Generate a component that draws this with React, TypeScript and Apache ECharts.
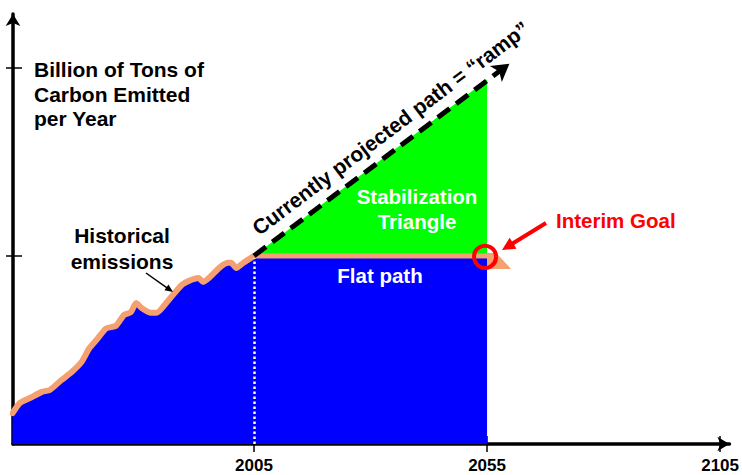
import React, { useEffect, useRef } from "react";
import * as echarts from "echarts";

// Historical emissions (billion tons of carbon per year)
const histYears = [1953.2, 1954.8, 1956.9, 1959.5, 1961.2, 1963.7, 1965.9, 1968.0, 1969.7, 1971.2, 1973.3, 1975.4, 1977.1, 1978.6, 1979.7, 1980.9, 1982.9, 1984.1, 1986.7, 1989.5, 1991.6, 1993.1, 1994.1, 1995.6, 1997.8, 1999.5, 2000.1, 2001.2, 2002.7, 2005];
const histValues = [1.15, 1.53, 1.71, 1.94, 2.01, 2.38, 2.68, 3.05, 3.57, 3.87, 4.3, 4.4, 4.8, 4.91, 5.25, 5.06, 4.88, 4.88, 5.36, 5.92, 6.11, 6.18, 6.03, 6.22, 6.59, 6.74, 6.74, 6.55, 6.74, 7.0];

// Flat path
const flatYears = [2005, 2055];
const flatValues = [7, 7];

// Ramp (currently projected path)
const rampYears = [2005, 2055];
const rampValues = [7, 13.55];
const rampArrowEnd = [2059.8, 14.15];

// Axis ticks
const xTickYears = [2005, 2055, 2105];
const yTickValues = [7, 14];

const FONT = "'Liberation Sans', Arial, Helvetica, sans-serif";
const BLUE = "#0000FF";
const GREEN = "#00FF00";
const ORANGE = "#F4A070";
const RED = "#FF0000";

function zip(xs: number[], ys: number[]) {
  return xs.map((x, i) => [x, ys[i]]);
}

function arrowShapes(x1: number, y1: number, x2: number, y2: number, color: string, w: number, headLen: number, headHalf: number) {
  const dx = x2 - x1;
  const dy = y2 - y1;
  const len = Math.sqrt(dx * dx + dy * dy);
  const ux = dx / len;
  const uy = dy / len;
  const bx = x2 - ux * headLen;
  const by = y2 - uy * headLen;
  const nx = -uy;
  const ny = ux;
  return [
    {
      type: "line",
      z: 100,
      shape: { x1, y1, x2: x2 - ux * headLen * 0.7, y2: y2 - uy * headLen * 0.7 },
      style: { stroke: color, lineWidth: w },
    },
    {
      type: "polygon",
      z: 100,
      shape: {
        points: [
          [x2, y2],
          [bx + nx * headHalf, by + ny * headHalf],
          [bx - nx * headHalf, by - ny * headHalf],
        ],
      },
      style: { fill: color },
    },
  ];
}

export default function App() {
  const ref = useRef<HTMLDivElement>(null);

  useEffect(() => {
    if (!ref.current) return;
    const chart = echarts.init(ref.current, null, { renderer: "svg" });

    const xBase = {
      type: "value",
      min: 1953.3,
      max: 2107,
      position: "bottom",
      splitLine: { show: false },
    };
    const yBase = {
      type: "value",
      min: 0,
      max: 16,
      position: "left",
      splitLine: { show: false },
    };

    const option: any = {
      animation: false,
      backgroundColor: "#ffffff",
      grid: { left: 13, right: 6, top: 14, bottom: 31, containLabel: false },
      xAxis: [
        {
          ...xBase,
          axisLine: {
            show: true,
            onZero: false,
            symbol: ["none", "arrow"],
            symbolSize: [11, 12],
            lineStyle: { color: "#000", width: 3.5 },
          },
          axisTick: {
            show: true,
            customValues: xTickYears,
            length: 8,
            lineStyle: { color: "#000", width: 1.5 },
          },
          axisLabel: {
            show: true,
            customValues: xTickYears,
            formatter: (v: number) => String(v),
            color: "#000",
            fontWeight: "bold",
            fontSize: 17,
            fontFamily: "'Liberation Sans Narrow', 'Arial Narrow', " + FONT,
            margin: 13,
          },
        },
        {
          ...xBase,
          axisLine: { show: false },
          axisTick: {
            show: true,
            inside: true,
            customValues: xTickYears,
            length: 8,
            lineStyle: { color: "#000", width: 1.5 },
          },
          axisLabel: { show: false },
        },
      ],
      yAxis: [
        {
          ...yBase,
          axisLine: {
            show: true,
            onZero: false,
            symbol: ["none", "arrow"],
            symbolSize: [11, 12],
            lineStyle: { color: "#000", width: 3.5 },
          },
          axisTick: {
            show: true,
            customValues: yTickValues,
            length: 7,
            lineStyle: { color: "#000", width: 1.5 },
          },
          axisLabel: { show: false },
        },
        {
          ...yBase,
          axisLine: { show: false },
          axisTick: {
            show: true,
            inside: true,
            customValues: yTickValues,
            length: 9,
            lineStyle: { color: "#000", width: 1.5 },
          },
          axisLabel: { show: false },
        },
      ],
      series: [
        {
          name: "Stabilization Triangle",
          type: "line",
          data: zip(rampYears, rampValues),
          showSymbol: false,
          symbol: "none",
          lineStyle: { width: 0, color: GREEN },
          areaStyle: { color: GREEN, opacity: 1 },
          z: 2,
          markLine: {
            silent: true,
            symbol: ["none", "arrow"],
            symbolSize: [15, 17],
            label: { show: false },
            lineStyle: { color: "#000", width: 5, type: [15, 8] },
            data: [[{ coord: [rampYears[0], rampValues[0]] }, { coord: rampArrowEnd }]],
            z: 5,
          },
        },
        {
          name: "Flat path",
          type: "line",
          data: zip(flatYears, flatValues),
          showSymbol: false,
          symbol: "none",
          lineStyle: { width: 5, color: ORANGE },
          areaStyle: { color: BLUE, opacity: 1 },
          z: 3,
          markLine: {
            silent: true,
            symbol: ["none", "none"],
            label: { show: false },
            lineStyle: { color: "#FFFFC0", width: 2.5, type: "dotted" },
            data: [[{ coord: [2005, 0] }, { coord: [2005, flatValues[0] - 0.1] }]],
          },
        },
        {
          name: "Historical emissions",
          type: "line",
          data: zip(histYears, histValues),
          showSymbol: false,
          symbol: "none",
          smooth: 0.2,
          lineStyle: { width: 6, color: ORANGE, join: "round", cap: "round" },
          areaStyle: { color: BLUE, opacity: 1 },
          z: 3,
        },
      ],
    };

    chart.setOption(option);

    const p = (x: number, y: number) => chart.convertToPixel({ gridIndex: 0 }, [x, y]) as number[];
    const A = p(rampYears[0], rampValues[0]);
    const B = p(rampArrowEnd[0], rampArrowEnd[1]);
    const ddx = B[0] - A[0];
    const ddy = A[1] - B[1];
    const L = Math.sqrt(ddx * ddx + ddy * ddy);
    const theta = Math.atan2(ddy, ddx);
    const ux = ddx / L;
    const uy = -ddy / L;
    const nx = -Math.sin(theta);
    const ny = -Math.cos(theta);
    const midX = (A[0] + B[0]) / 2 + ux * 26 + nx * 20;
    const midY = (A[1] + B[1]) / 2 + uy * 26 + ny * 20;

    const G = p(flatYears[1], flatValues[1]);

    const graphic: any[] = [
      {
        type: "text",
        z: 100,
        x: 34,
        y: 57.5,
        style: {
          text: "Billion of Tons of\nCarbon Emitted\nper Year",
          fill: "#000",
          font: `bold 21px ${FONT}`,
          lineHeight: 24.5,
          align: "left",
          verticalAlign: "top",
        },
      },
      {
        type: "text",
        z: 100,
        x: 122,
        y: 222,
        style: {
          text: "Historical\nemissions",
          fill: "#000",
          font: `bold 21px ${FONT}`,
          lineHeight: 26,
          align: "center",
          verticalAlign: "top",
        },
      },
      {
        type: "text",
        z: 100,
        x: 417,
        y: 184.5,
        style: {
          text: "Stabilization\nTriangle",
          fill: "#fff",
          font: `bold 20.5px ${FONT}`,
          lineHeight: 24.5,
          align: "center",
          verticalAlign: "top",
        },
      },
      {
        type: "text",
        z: 100,
        x: 380,
        y: 264.5,
        style: {
          text: "Flat path",
          fill: "#fff",
          font: `bold 20.5px ${FONT}`,
          align: "center",
          verticalAlign: "top",
        },
      },
      {
        type: "text",
        z: 100,
        x: 556,
        y: 209.5,
        style: {
          text: "Interim Goal",
          fill: RED,
          font: `bold 20.5px ${FONT}`,
          align: "left",
          verticalAlign: "top",
        },
      },
      {
        type: "text",
        z: 100,
        x: midX,
        y: midY,
        rotation: theta,
        style: {
          text: "Currently projected path = \u201Cramp\u201D",
          fill: "#000",
          font: `bold 21px ${FONT}`,
          align: "center",
          verticalAlign: "middle",
        },
      },
      {
        type: "polygon",
        z: 90,
        shape: {
          points: [
            [G[0], G[1] - 3],
            [G[0] + 9, G[1] - 3],
            [G[0] + 24, G[1] + 13],
            [G[0], G[1] + 13],
          ],
        },
        style: { fill: ORANGE },
      },
      {
        type: "circle",
        z: 101,
        shape: { cx: G[0] - 2, cy: G[1] + 1, r: 11 },
        style: { stroke: RED, lineWidth: 4, fill: "none" },
      },
      ...arrowShapes(146, 273, 173, 292, "#000", 1.5, 8, 3.5),
      ...arrowShapes(546, 223, 502, 250, RED, 4, 13, 6.5),
    ];

    chart.setOption({ graphic });

    return () => {
      chart.dispose();
    };
  }, []);

  return (
    <div
      ref={ref}
      style={{ position: "absolute", left: 0, top: 0, width: 742, height: 475 }}
    />
  );
}
